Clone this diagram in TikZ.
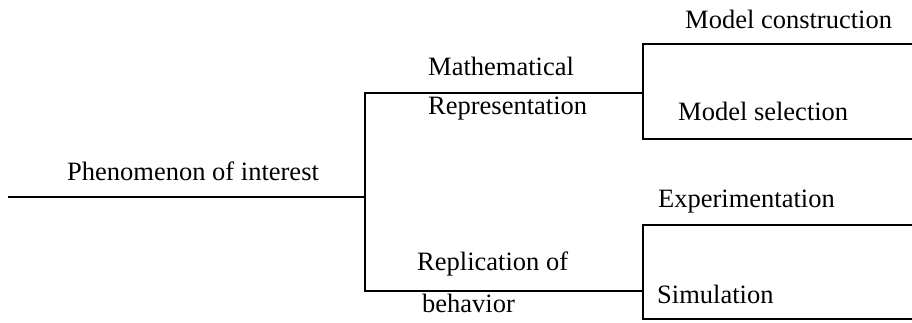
\documentclass[tikz,border=0pt]{standalone}
\usepackage{fontspec}
\setmainfont{Liberation Serif}
\begin{document}
\begin{tikzpicture}[x=1pt,y=-1pt,
  lbl/.style={anchor=base west,inner sep=0pt,font=\fontsize{26.5}{30}\selectfont},
  wire/.style={line width=2pt,line cap=rect}]
\useasboundingbox (0,0) rectangle (912,322);
% junction coordinates
\coordinate (m0) at (9,197);
\coordinate (m1) at (365,197);
\coordinate (t1) at (365,93);
\coordinate (b1) at (365,291);
\coordinate (t2) at (643,93);
\coordinate (b2) at (643,291);
\coordinate (tt) at (643,44);
\coordinate (tb) at (643,139);
\coordinate (tte) at (912,44);
\coordinate (tbe) at (912,139);
\coordinate (bt) at (643,225);
\coordinate (bb) at (643,319);
\coordinate (bte) at (912,225);
\coordinate (bbe) at (912,319);
% wires
\draw[wire] (m0) -- (m1);
\draw[wire] (t1) -- (b1);
\draw[wire] (t1) -- (t2);
\draw[wire] (b1) -- (b2);
\draw[wire] (tte) -- (tt) -- (tb) -- (tbe);
\draw[wire] (bte) -- (bt) -- (bb) -- (bbe);
% labels
\node[lbl] (phen) at (67,180) {Phenomenon of interest};
\node[lbl] (math) at (428,75) {Mathematical};
\node[lbl] (repr) at (428,114) {Representation};
\node[lbl] (repl) at (417,270) {Replication of};
\node[lbl] (beh) at (422,312) {behavior};
\node[lbl] (mc) at (685,28) {Model construction};
\node[lbl] (ms) at (678,120) {Model selection};
\node[lbl] (exp) at (658,207) {Experimentation};
\node[lbl] (sim) at (657,303) {Simulation};
\end{tikzpicture}
\end{document}
